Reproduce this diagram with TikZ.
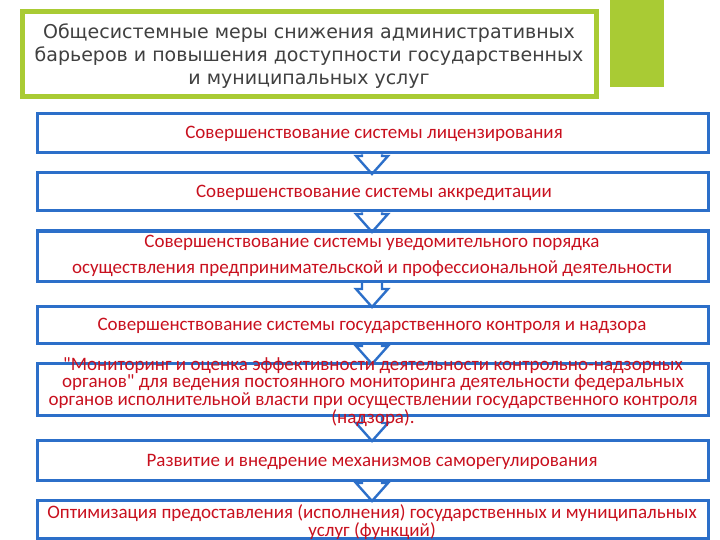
\documentclass[tikz,border=0pt]{standalone}
\usepackage{fontspec}
\setmainfont{Carlito}
\newfontfamily\titlefont{DejaVu Sans}
\definecolor{lime}{HTML}{A9CB34}
\definecolor{boxblue}{HTML}{2C6FC9}
\definecolor{txtred}{HTML}{C8101E}
\tikzset{
  bluebox/.style={draw=boxblue, line width=3pt},
  flowarrow/.style={draw=boxblue, fill=white, line width=2.4pt, line join=miter},
  boxtext/.style={text=txtred, align=center, inner sep=0pt, font=\fontsize{19}{17.8}\selectfont},
}
\begin{document}
\begin{tikzpicture}[x=1pt,y=-1pt]
\useasboundingbox (0,0) rectangle (720,540);
% right green bar
\fill[lime] (610,0) rectangle (664,87);
% title box
\draw[lime, line width=5pt, fill=white] (22,12) rectangle (596,97);
\node[inner sep=0pt, align=center, text=black!75, font=\titlefont\fontsize{19}{23}\selectfont] (title) at (309,56)
  {Общесистемные меры снижения административных\\барьеров и повышения доступности государственных\\и муниципальных услуг};
% box coordinates
\coordinate (b1t) at (372,114); \coordinate (b1b) at (372,153);
\coordinate (b2t) at (372,173); \coordinate (b2b) at (372,211);
\coordinate (b3t) at (372,231); \coordinate (b3b) at (372,281);
\coordinate (b4t) at (372,306); \coordinate (b4b) at (372,343);
\coordinate (b5t) at (372,363); \coordinate (b5b) at (372,415);
\coordinate (b6t) at (372,440); \coordinate (b6b) at (372,480);
\coordinate (b7t) at (372,500); \coordinate (b7b) at (372,538);
% arrows
\foreach \a/\b in {b1b/b2t, b2b/b3t, b3b/b4t, b4b/b5t, b5b/b6t, b6b/b7t}{
  \draw[flowarrow] ([shift={(-10,1.5)}]\a) -- ([shift={(-10,-17)}]\b) -- ([shift={(-16,-17)}]\b)
    -- ([shift={(0,1)}]\b) -- ([shift={(16,-17)}]\b) -- ([shift={(10,-17)}]\b) -- ([shift={(10,1.5)}]\a);
}
% boxes
\foreach \t/\b/\n in {b1t/b1b/1, b2t/b2b/2, b3t/b3b/3, b4t/b4b/4, b5t/b5b/5, b6t/b6b/6, b7t/b7b/7}{
  \draw[bluebox] ([xshift=-335]\t) rectangle ([xshift=336]\b);
}
% texts
\node[boxtext] (t1) at (374,134) {Совершенствование системы лицензирования};
\node[boxtext] (t2) at (374,193) {Совершенствование системы аккредитации};
\node[boxtext, font=\fontsize{19}{26}\selectfont] (t3) at (372,256) {Совершенствование системы уведомительного порядка\\осуществления предпринимательской и профессиональной деятельности};
\node[boxtext] (t4) at (372,326) {Совершенствование системы государственного контроля и надзора};
\node[boxtext] (t5) at (373,392) {\textquotedbl Мониторинг и оценка эффективности деятельности контрольно-надзорных\\органов\textquotedbl{} для ведения постоянного мониторинга деятельности федеральных\\органов исполнительной власти при осуществлении государственного контроля\\(надзора).};
\node[boxtext] (t6) at (372,462) {Развитие и внедрение механизмов саморегулирования};
\node[boxtext] (t7) at (372,522) {Оптимизация предоставления (исполнения) государственных и муниципальных\\услуг (функций)};
\end{tikzpicture}
\end{document}
